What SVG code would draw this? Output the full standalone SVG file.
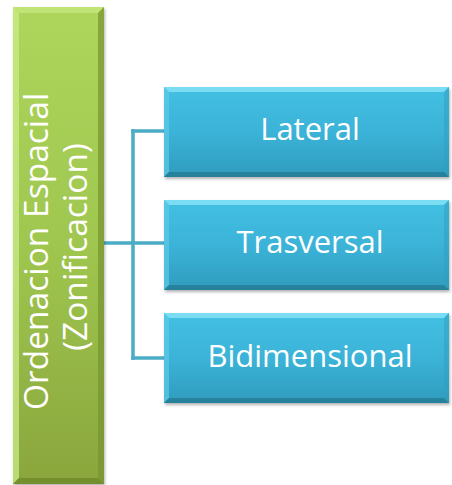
<svg xmlns="http://www.w3.org/2000/svg" width="452" height="485" viewBox="0 0 452 485">
  <defs>
    <linearGradient id="gGreen" x1="0" y1="0" x2="0" y2="1">
      <stop offset="0" stop-color="#aed65c"/>
      <stop offset="0.5" stop-color="#9fc64f"/>
      <stop offset="1" stop-color="#8aa63d"/>
    </linearGradient>
    <linearGradient id="gBlue" x1="0" y1="0" x2="0" y2="1">
      <stop offset="0" stop-color="#43c0e3"/>
      <stop offset="0.5" stop-color="#3bb3d8"/>
      <stop offset="1" stop-color="#2f9cbd"/>
    </linearGradient>
    <filter id="shadow" x="-10%" y="-10%" width="130%" height="130%">
      <feDropShadow dx="1" dy="2" stdDeviation="1.5" flood-color="#000" flood-opacity="0.3"/>
    </filter>
    <style>
      .conn { stroke: #4bacc6; stroke-width: 3.5; fill: none; stroke-linecap: square; }
      .txt { font-family: "Open Sans", "Noto Sans", sans-serif; fill: #ffffff; }
      .bt { font-size: 31px; text-anchor: middle; }
      .gt { font-size: 33.5px; text-anchor: middle; }
    </style>
  </defs>

  <g id="connectors">
    <path class="conn" d="M104,243 H133"/>
    <path class="conn" d="M133,131 V358"/>
    <path class="conn" d="M133,131 H164"/>
    <path class="conn" d="M133,243 H164"/>
    <path class="conn" d="M133,358 H164"/>
  </g>

  <g id="node-root">
    <rect x="13" y="7" width="91" height="477" fill="url(#gGreen)" filter="url(#shadow)"/>
    <polygon points="13,7 104,7 98,13 19,13" fill="#c4e77c" opacity="0.8"/>
    <polygon points="13,7 19,13 19,478 13,484" fill="#c9ec85" opacity="0.75"/>
    <polygon points="104,7 104,484 98,478 98,13" fill="#76932f" opacity="0.7"/>
    <polygon points="13,484 19,478 98,478 104,484" fill="#6f8a2a" opacity="0.8"/>
    <text class="txt gt" transform="translate(48,247) rotate(-90)">
      <tspan x="0" y="0">Ordenacion Espacial</tspan>
      <tspan x="0" y="39">(Zonificacion)</tspan>
    </text>
  </g>

  <g id="node-lateral">
    <rect x="164" y="87" width="285" height="90" fill="url(#gBlue)" filter="url(#shadow)"/>
    <polygon points="164,87 449,87 444,92 169,92" fill="#84e2f6" opacity="0.85"/>
    <polygon points="164,87 169,92 169,172 164,177" fill="#5fcbe8" opacity="0.7"/>
    <polygon points="449,87 449,177 444,172 444,92" fill="#2f9dbf" opacity="0.5"/>
    <polygon points="164,177 169,172 444,172 449,177" fill="#247c97" opacity="0.85"/>
    <text class="txt bt" x="310" y="140">Lateral</text>
  </g>

  <g id="node-trasversal">
    <rect x="164" y="200" width="285" height="90" fill="url(#gBlue)" filter="url(#shadow)"/>
    <polygon points="164,200 449,200 444,205 169,205" fill="#84e2f6" opacity="0.85"/>
    <polygon points="164,200 169,205 169,285 164,290" fill="#5fcbe8" opacity="0.7"/>
    <polygon points="449,200 449,290 444,285 444,205" fill="#2f9dbf" opacity="0.5"/>
    <polygon points="164,290 169,285 444,285 449,290" fill="#247c97" opacity="0.85"/>
    <text class="txt bt" x="310" y="253">Trasversal</text>
  </g>

  <g id="node-bidimensional">
    <rect x="164" y="313" width="285" height="90" fill="url(#gBlue)" filter="url(#shadow)"/>
    <polygon points="164,313 449,313 444,318 169,318" fill="#84e2f6" opacity="0.85"/>
    <polygon points="164,313 169,318 169,398 164,403" fill="#5fcbe8" opacity="0.7"/>
    <polygon points="449,313 449,403 444,398 444,318" fill="#2f9dbf" opacity="0.5"/>
    <polygon points="164,403 169,398 444,398 449,403" fill="#247c97" opacity="0.85"/>
    <text class="txt bt" x="310" y="367">Bidimensional</text>
  </g>
</svg>
